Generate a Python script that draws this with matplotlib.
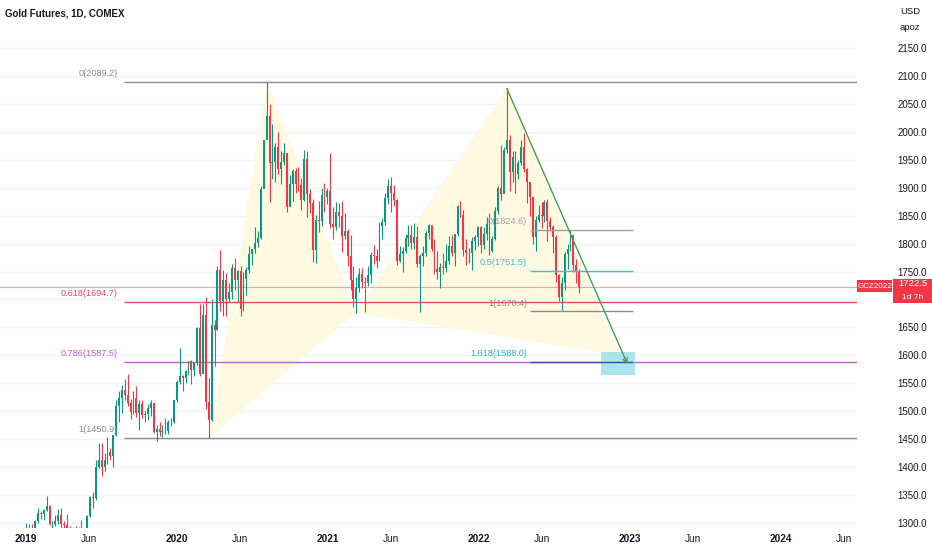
import matplotlib
matplotlib.use('Agg')
import matplotlib.pyplot as plt
import matplotlib.dates as mdates
import matplotlib.transforms as mtransforms
from matplotlib.patches import Rectangle, Polygon
import numpy as np
import pandas as pd

plt.rcParams['font.family'] = ['Liberation Sans', 'DejaVu Sans']

# weekly candles (high, low, close), weeks end on Friday, first week ends 2019-01-04
hlc_2019 = [
    (1300, 1282, 1287), (1298, 1280, 1290), (1298, 1282, 1282), (1305, 1276, 1303),
    (1326, 1300, 1318), (1321, 1306, 1316), (1325, 1304, 1322), (1347, 1321, 1329),
    (1331, 1296, 1298), (1302, 1281, 1298), (1313, 1293, 1302), (1324, 1298, 1313),
    (1326, 1286, 1298), (1302, 1285, 1295), (1316, 1290, 1291), (1293, 1273, 1276),
    (1290, 1270, 1288), (1293, 1268, 1281), (1292, 1278, 1287), (1305, 1273, 1277),
    (1289, 1272, 1289), (1314, 1280, 1311), (1348, 1310, 1346), (1355, 1327, 1344),
    (1412, 1340, 1400), (1442, 1397, 1413), (1442, 1384, 1400), (1425, 1392, 1412),
    (1453, 1405, 1427), (1433, 1412, 1419), (1457, 1400, 1457), (1520, 1455, 1509),
    (1535, 1480, 1523), (1546, 1497, 1537), (1558, 1520, 1529), (1566, 1509, 1515),
    (1522, 1485, 1499), (1535, 1494, 1524), (1545, 1490, 1497), (1520, 1466, 1513),
    (1519, 1487, 1493), (1500, 1480, 1494), (1512, 1483, 1505), (1520, 1491, 1514),
    (1515, 1460, 1462), (1475, 1446, 1468), (1480, 1456, 1463), (1475, 1454, 1465),
    (1487, 1458, 1465), (1484, 1459, 1481), (1488, 1474, 1481), (1519, 1478, 1519),
]
hlc_2020 = [
    (1555, 1517, 1552), (1613, 1548, 1562), (1564, 1536, 1560), (1574, 1550, 1571),
    (1590, 1565, 1589), (1592, 1548, 1573), (1588, 1563, 1586), (1651, 1582, 1649),
    (1691, 1563, 1566), (1692, 1576, 1672), (1704, 1504, 1516), (1560, 1451, 1484),
    (1700, 1482, 1654), (1663, 1580, 1645), (1760, 1646, 1752), (1788, 1680, 1698),
    (1752, 1670, 1735), (1747, 1671, 1700), (1730, 1695, 1713), (1763, 1700, 1756),
    (1775, 1716, 1734), (1752, 1695, 1751), (1760, 1671, 1683), (1750, 1680, 1737),
    (1758, 1708, 1753), (1796, 1748, 1781), (1791, 1761, 1790), (1829, 1783, 1801),
    (1822, 1794, 1810), (1904, 1808, 1897), (1985, 1900, 1985), (2089, 1990, 2028),
    (2050, 1874, 1944), (2015, 1915, 1947), (1980, 1910, 1974), (2000, 1925, 1934),
    (1966, 1907, 1947), (1980, 1941, 1962), (1960, 1856, 1866), (1923, 1870, 1907),
    (1933, 1876, 1930), (1936, 1890, 1906), (1938, 1894, 1905), (1918, 1860, 1879),
    (1968, 1876, 1952), (1966, 1848, 1889), (1897, 1855, 1873), (1880, 1767, 1788),
    (1852, 1765, 1842), (1876, 1821, 1840), (1900, 1831, 1888), (1908, 1857, 1883),
]
hlc_2021 = [
    (1900, 1871, 1895), (1962, 1828, 1835), (1866, 1809, 1830), (1875, 1825, 1856),
    (1873, 1830, 1850), (1876, 1785, 1814), (1855, 1808, 1823), (1826, 1760, 1777),
    (1815, 1717, 1734), (1760, 1687, 1700), (1741, 1676, 1721), (1756, 1713, 1745),
    (1756, 1721, 1732), (1740, 1677, 1729), (1760, 1724, 1744), (1785, 1730, 1780),
    (1797, 1763, 1777), (1790, 1757, 1769), (1838, 1769, 1831), (1846, 1808, 1838),
    (1891, 1833, 1881), (1916, 1871, 1903), (1920, 1856, 1891), (1905, 1868, 1879),
    (1880, 1761, 1769), (1795, 1767, 1781), (1794, 1750, 1787), (1818, 1784, 1810),
    (1834, 1796, 1816), (1834, 1790, 1801), (1837, 1791, 1812), (1832, 1758, 1763),
    (1782, 1677, 1778), (1795, 1760, 1784), (1823, 1777, 1819), (1836, 1808, 1833),
    (1834, 1787, 1790), (1808, 1745, 1754), (1787, 1737, 1750), (1765, 1721, 1758),
    (1783, 1745, 1757), (1800, 1750, 1768), (1814, 1764, 1796), (1815, 1778, 1784),
    (1818, 1759, 1817), (1870, 1813, 1868), (1877, 1847, 1852), (1860, 1777, 1788),
    (1808, 1762, 1783), (1793, 1766, 1784), (1812, 1753, 1804), (1815, 1788, 1811),
    (1831, 1796, 1829),
]
hlc_2022 = [
    (1832, 1783, 1797), (1830, 1791, 1818), (1848, 1806, 1835), (1854, 1780, 1786),
    (1813, 1785, 1808), (1866, 1807, 1859), (1904, 1853, 1900), (1976, 1878, 1889),
    (1973, 1890, 1967), (2078, 1963, 1985), (1994, 1895, 1929), (1966, 1910, 1956),
    (1966, 1890, 1924), (1950, 1915, 1945), (1986, 1940, 1974), (1998, 1928, 1934),
    (1936, 1872, 1911), (1910, 1850, 1883), (1884, 1799, 1811), (1849, 1787, 1842),
    (1870, 1839, 1851), (1874, 1828, 1850), (1878, 1838, 1875), (1880, 1805, 1840),
    (1848, 1822, 1829), (1834, 1784, 1811), (1815, 1732, 1743), (1745, 1697, 1704),
    (1740, 1680, 1729), (1785, 1717, 1782), (1800, 1755, 1791), (1825, 1787, 1815),
    (1816, 1750, 1762), (1772, 1730, 1749), (1755, 1711, 1722.5),
]
first_open = 1284.0
last_price = 1722.5

# fibonacci retracement (big) and extension (small)
fib_big_levels = [2089.2, 1694.7, 1587.5, 1450.9]
fib_big_labels = ['0(2089.2)', '0.618(1694.7)', '0.786(1587.5)', '1(1450.9)']
fib_big_colors = ['#888b94', '#e8485a', '#c05bd0', '#888b94']
fib_small_levels = [1824.6, 1751.5, 1678.4, 1588.0]
fib_small_labels = ['0(1824.6)', '0.5(1751.5)', '1(1678.4)', '1.618(1588.0)']
fib_small_colors = ['#9a9da5', '#3cc0cc', '#888b94', '#2f4fb8']
fib_small_text_colors = ['#9a9da5', '#3cc0cc', '#888b94', '#22b2cf']

# harmonic XABCD pattern points
xabcd_dates = ['2020-03-19', '2020-08-07', '2021-03-08', '2022-03-08', '2022-12-05']
xabcd_prices = [1450.9, 2089.2, 1676.0, 2078.0, 1600.0]

# projection arrow and target box
arrow_dates = ['2022-03-09', '2022-12-26']
arrow_prices = [2078.0, 1584.0]
box_dates = ['2022-10-23', '2023-01-12']
box_prices = [1565.0, 1606.0]

x_tick_dates = ['2019-01-01', '2019-06-01', '2020-01-01', '2020-06-01', '2021-01-01',
                '2021-06-01', '2022-01-01', '2022-06-01', '2023-01-01', '2023-06-01',
                '2024-01-01', '2024-06-01']
x_tick_labels = ['2019', 'Jun', '2020', 'Jun', '2021', 'Jun', '2022', 'Jun', '2023',
                 'Jun', '2024', 'Jun']
y_ticks = list(range(1300, 2151, 50))
y_hidden = [1700]  # covered by the last price tag

UP = '#089981'
DOWN = '#f23645'
TXT = '#131722'

hlc = hlc_2019 + hlc_2020 + hlc_2021 + hlc_2022
highs = np.array([r[0] for r in hlc], dtype=float)
lows = np.array([r[1] for r in hlc], dtype=float)
closes = np.array([r[2] for r in hlc], dtype=float)
opens = np.concatenate([[first_open], closes[:-1]])
week_end = pd.date_range('2019-01-04', periods=len(hlc), freq='W-FRI')
centers = mdates.date2num(week_end - pd.Timedelta(days=2))
colors = [UP if c >= o else DOWN for o, c in zip(opens, closes)]

fig = plt.figure(figsize=(9.32, 5.5), dpi=100)
ax = fig.add_axes([0.0, 1 - 528 / 550, 857 / 932, 528 / 550])

x0 = mdates.date2num(pd.Timestamp('2019-01-01'))
px_per_day = 151.0 / 365.25
ax.set_xlim(x0 - 26 / px_per_day, x0 + (857 - 26) / px_per_day)
ax.set_ylim(1290.3, 2236.6)

for s in ax.spines.values():
    s.set_visible(False)

for yv in y_ticks:
    ax.axhline(yv, color='#f0f3fa', lw=1, zorder=0)

# harmonic pattern triangles
pts_x = mdates.date2num(pd.to_datetime(xabcd_dates))
pts = list(zip(pts_x, xabcd_prices))
for tri in (pts[0:3], pts[2:5]):
    ax.add_patch(Polygon(tri, closed=True, facecolor='#fff9e1', edgecolor='none',
                         zorder=1))

# current price line
ax.axhline(last_price, color='#f7a3ab', lw=0.8, zorder=2)

# big fib levels
big_start = mdates.date2num(pd.Timestamp('2019-08-25'))
big_end = ax.get_xlim()[1]
for lvl, lab, col in zip(fib_big_levels, fib_big_labels, fib_big_colors):
    ax.hlines(lvl, big_start, big_end, color=col, lw=1, zorder=2)
    ax.text(big_start - 14, lvl + 7, lab, color=col, fontsize=6.6,
            ha='right', va='bottom', zorder=5)

# candles
ax.vlines(centers, lows, highs, colors=colors, lw=0.8, zorder=3)
ax.bar(centers, closes - opens, bottom=opens, width=4.5, color=colors,
       linewidth=0, zorder=4)

# small fib levels
small_start = mdates.date2num(pd.Timestamp('2022-05-04'))
small_end = mdates.date2num(pd.Timestamp('2023-01-08'))
for lvl, lab, col, tcol in zip(fib_small_levels, fib_small_labels,
                               fib_small_colors, fib_small_text_colors):
    ax.hlines(lvl, small_start, small_end, color=col, lw=1, zorder=5)
    ax.text(small_start - 7, lvl + 7, lab, color=tcol, fontsize=6.6,
            ha='right', va='bottom', zorder=6)

# target box and arrow
bx = mdates.date2num(pd.to_datetime(box_dates))
ax.add_patch(Rectangle((bx[0], box_prices[0]), bx[1] - bx[0],
                       box_prices[1] - box_prices[0],
                       facecolor='#8fdce5', edgecolor='none', alpha=0.75, zorder=2))
ax_pts = mdates.date2num(pd.to_datetime(arrow_dates))
ax.annotate('', xy=(ax_pts[1], arrow_prices[1]), xytext=(ax_pts[0], arrow_prices[0]),
            arrowprops=dict(arrowstyle='->', color='#43a047', lw=1,
                            shrinkA=0, shrinkB=0, mutation_scale=8),
            zorder=7)

# axes ticks
ax.yaxis.tick_right()
ax.set_yticks(y_ticks)
ax.set_yticklabels(['' if v in y_hidden else '%.1f' % v for v in y_ticks],
                   fontsize=7, color=TXT)
ax.tick_params(axis='y', length=0, pad=29)
ax.set_xticks(mdates.date2num(pd.to_datetime(x_tick_dates)))
ax.set_xticklabels(x_tick_labels, fontsize=7.2, color=TXT)
for t in ax.get_xticklabels():
    if t.get_text() != 'Jun':
        t.set_fontweight('bold')
ax.tick_params(axis='x', length=0, pad=4)

fig.text(5 / 932, 1 - 14 / 550, 'Gold Futures, 1D, COMEX', fontsize=7,
         fontweight='bold', color=TXT, va='center', ha='left')
fig.text(900 / 932, 1 - 12 / 550, 'USD', fontsize=6.8, color=TXT, va='center')
fig.text(900 / 932, 1 - 27 / 550, 'apoz', fontsize=6.8, color=TXT, va='center')

# last price tags on the price scale
tr = mtransforms.blended_transform_factory(fig.transFigure, ax.transData)
fig.patches.append(Rectangle((857 / 932, last_price - 9), 35 / 932, 21.5,
                             transform=tr, facecolor=DOWN, edgecolor='none'))
fig.patches.append(Rectangle((893 / 932, last_price - 29), 39 / 932, 43,
                             transform=tr, facecolor=DOWN, edgecolor='none'))
fig.text(874.5 / 932, last_price + 1.5, 'GCZ2022', transform=tr, fontsize=5.8,
         color='white', ha='center', va='center')
fig.text(912.5 / 932, last_price + 6, '1722.5', transform=tr, fontsize=6.8,
         color='white', ha='center', va='center')
fig.text(912.5 / 932, last_price - 19, '1d 7h', transform=tr, fontsize=6,
         color='white', ha='center', va='center')

fig.savefig('out.png', dpi=100)
